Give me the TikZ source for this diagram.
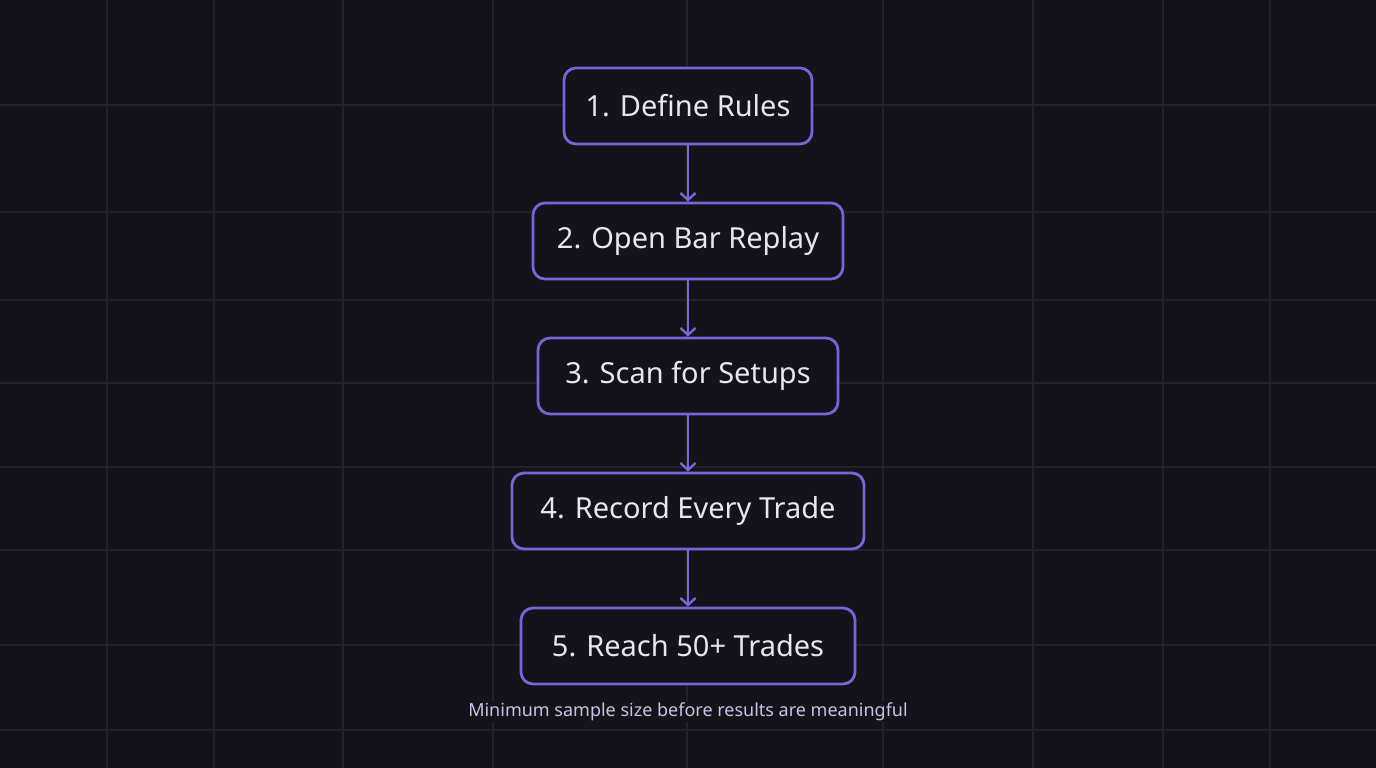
\documentclass[tikz,border=0pt]{standalone}
\usepackage{fontspec}
\setmainfont{Noto Sans}
\usetikzlibrary{arrows.meta}
\definecolor{bg}{HTML}{131319}
\definecolor{gridc}{HTML}{222229}
\definecolor{purp}{HTML}{7B63D8}
\definecolor{txt}{HTML}{E8E6F0}
\definecolor{cap}{HTML}{C9C2E8}
\tikzset{
  stepbox/.style={draw=purp, line width=2.8pt, rounded corners=12pt, fill=bg, text=txt,
    font=\fontsize{29}{32}\selectfont, minimum height=76pt, inner xsep=0pt},
  conn/.style={draw=purp, line width=2.4pt, -{Straight Barb[length=7pt,width=15pt,line width=2.4pt]}}
}
\begin{document}
\begin{tikzpicture}[x=1pt,y=-1pt]
\fill[bg] (0,0) rectangle (1376,768);
\useasboundingbox (0,0) rectangle (1376,768);
\foreach \x in {107,214,343,493,687,883,1033,1163,1270}
  \draw[gridc, line width=1.2pt] (\x,0) -- (\x,768);
\foreach \y in {105,212,300,383,467,550,645,730}
  \draw[gridc, line width=1.2pt] (0,\y) -- (1376,\y);
\node[stepbox, minimum width=248pt] (s1) at (688,106) {1. Define Rules};
\node[stepbox, minimum width=310pt] (s2) at (688,241) {2. Open Bar Replay};
\node[stepbox, minimum width=300pt] (s3) at (688,376) {3. Scan for Setups};
\node[stepbox, minimum width=352pt] (s4) at (688,511) {4. Record Every Trade};
\node[stepbox, minimum width=334pt] (s5) at (688,646) {5. Reach 50+ Trades};
\node[text=cap, font=\fontsize{18}{21}\selectfont, fill=bg, inner sep=1pt] (c) at (688,712) {Minimum sample size before results are meaningful};
\draw[conn] (s1) -- (s2);
\draw[conn] (s2) -- (s3);
\draw[conn] (s3) -- (s4);
\draw[conn] (s4) -- (s5);
\end{tikzpicture}
\end{document}
